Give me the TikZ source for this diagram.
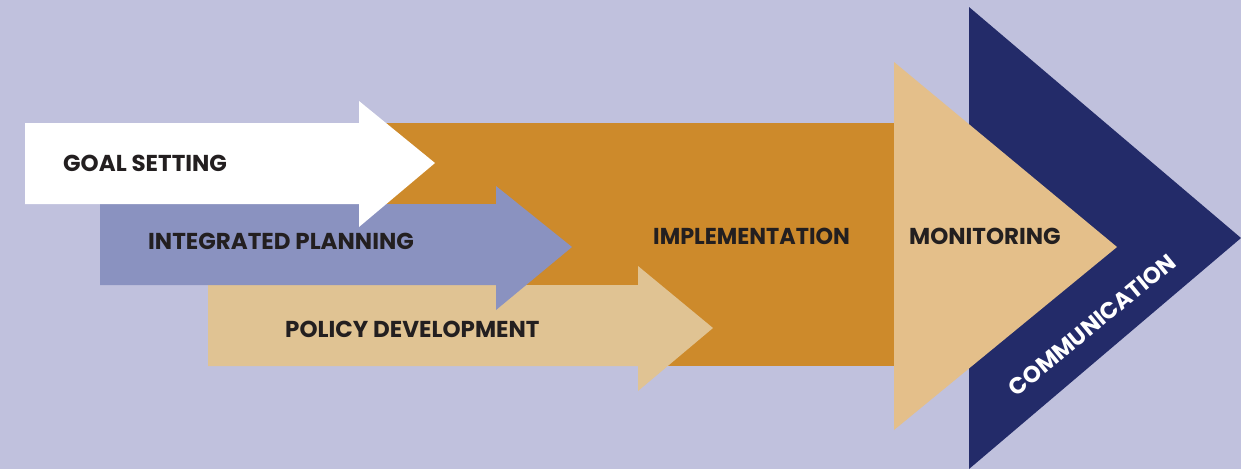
\documentclass[tikz,border=0pt]{standalone}
\usepackage{fontspec}
\setmainfont{Poppins}
\definecolor{bg}{HTML}{C0C1DD}
\definecolor{impl}{HTML}{CD8A2B}
\definecolor{plan}{HTML}{8A92C0}
\definecolor{policy}{HTML}{E0C393}
\definecolor{monit}{HTML}{E4BF8A}
\definecolor{navy}{HTML}{232B69}
\definecolor{ink}{HTML}{231F20}
\tikzset{
  lbl/.style={font=\bfseries\fontsize{23}{23}\selectfont, text=ink, inner sep=0pt, anchor=base west},
}
\begin{document}
\begin{tikzpicture}[x=1pt,y=-1pt]
\fill[bg] (0,0) rectangle (1241,469);
\useasboundingbox (0,0) rectangle (1241,469);
% implementation block
\fill[impl] (386,123) rectangle (894,366);
% policy arrow
\fill[policy] (208,285) -- (638,285) -- (638,266) -- (713,328) -- (638,391) -- (638,366) -- (208,366) -- cycle;
% planning arrow
\fill[plan] (100,204) -- (496,204) -- (496,186) -- (572,247) -- (496,310) -- (496,285) -- (100,285) -- cycle;
% goal arrow
\fill[white] (25,123) -- (359,123) -- (359,101) -- (435,163) -- (359,227) -- (359,204) -- (25,204) -- cycle;
% communication triangle
\fill[navy] (969,7) -- (1241,238) -- (969,469) -- cycle;
% monitoring triangle
\fill[monit] (894,62) -- (1117,247) -- (894,430) -- cycle;
% labels
\node[lbl] (goal) at (63,171) {GOAL SETTING};
\node[lbl] (planning) at (148,249) {INTEGRATED PLANNING};
\node[lbl] (policytxt) at (285,337) {POLICY DEVELOPMENT};
\node[lbl, xscale=0.97] (impltxt) at (653,244) {IMPLEMENTATION};
\node[lbl] (monittxt) at (909,244) {MONITORING};
\node[font=\bfseries\fontsize{23}{23}\selectfont, inner sep=0pt, text=white, rotate=39.5] (commtxt) at (1092,325) {COMMUNICATION};
\end{tikzpicture}
\end{document}
